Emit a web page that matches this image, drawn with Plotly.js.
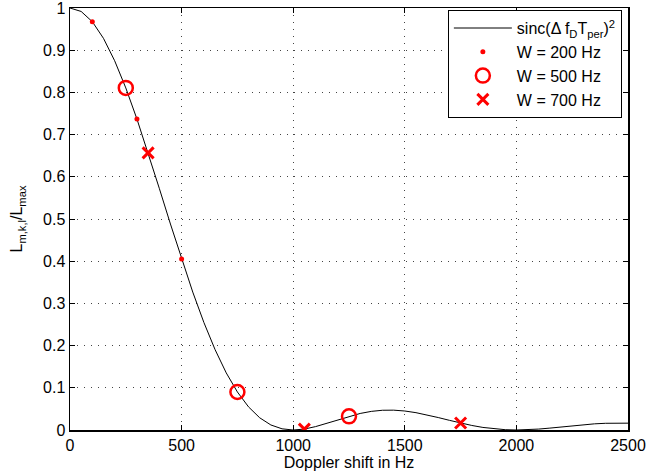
<!DOCTYPE html>
<html>
<head>
<meta charset="utf-8">
<script src="https://cdn.plot.ly/plotly-3.0.1.min.js"></script>
<style>
  html, body { margin: 0; padding: 0; background: #fff; }
  #chart { width: 667px; height: 476px; }
</style>
</head>
<body>
<div id="chart"></div>
<script>
// Curve: sinc(Δ f_D T_per)^2 values
const curveHz = [0,50,100,150,200,250,300,350,400,450,500,550,600,650,700,750,800,850,900,950,
  1000,1050,1100,1150,1200,1250,1300,1350,1400,1450,1500,1550,1600,1650,1700,1750,1800,1850,1900,1950,
  2000,2050,2100,2150,2200,2250,2300,2350,2400,2450,2500];
const curveVal = [1.0,0.9918,0.9675,0.9281,0.8751,0.8106,0.7368,0.6566,0.5728,0.4881,0.4053,0.3268,0.2546,0.1904,0.1353,0.0901,0.0547,0.0289,0.0119,0.0028,
  0.0,0.0022,0.0080,0.0158,0.0243,0.0324,0.0392,0.0441,0.0468,0.0470,0.0450,0.0411,0.0358,0.0295,0.0229,0.0165,0.0108,0.0061,0.0027,0.0007,
  0.0,0.0006,0.0022,0.0045,0.0072,0.0100,0.0125,0.0146,0.0159,0.0165,0.0162];

// Sample points for each W
const w200Hz = [100, 300, 500];
const w200Val = [0.9675, 0.7368, 0.4053];
const w500Hz = [250, 750, 1250];
const w500Val = [0.8106, 0.0901, 0.0324];
const w700Hz = [350, 1050, 1750];
const w700Val = [0.6566, 0.0022, 0.0165];

const xTicks = [0, 500, 1000, 1500, 2000, 2500];
const yTicks = [0, 0.1, 0.2, 0.3, 0.4, 0.5, 0.6, 0.7, 0.8, 0.9, 1];

const FONT = 'Liberation Sans, Arial, Helvetica, sans-serif';
const RED = '#ff0000';

const traces = [
  { x: curveHz, y: curveVal, type: 'scatter', mode: 'lines',
    name: 'sinc(Δ f<sub>D</sub>T<sub>per</sub>)<sup>2</sup>',
    line: { color: '#000', width: 1 } },
  { x: w200Hz, y: w200Val, type: 'scatter', mode: 'markers', name: 'W = 200 Hz',
    marker: { symbol: 'circle', size: 5, color: RED } },
  { x: w500Hz, y: w500Val, type: 'scatter', mode: 'markers', name: 'W = 500 Hz',
    marker: { symbol: 'circle-open', size: 14, color: RED, line: { color: RED, width: 2.5 } } },
  { x: w700Hz, y: w700Val, type: 'scatter', mode: 'markers', name: 'W = 700 Hz',
    marker: { symbol: 'x-thin', size: 11, color: RED, line: { color: RED, width: 3 } } }
];

const axisCommon = {
  showline: true, linecolor: '#000', linewidth: 1.5, mirror: 'ticks',
  ticks: 'inside', ticklen: 5, tickcolor: '#000', tickwidth: 1,
  showgrid: true, gridcolor: '#444', gridwidth: 1, griddash: '1px,6px',
  zeroline: false, ticklabeloverflow: 'allow',
  tickfont: { family: FONT, size: 16, color: '#000' }
};

const layout = {
  width: 667, height: 476,
  margin: { l: 70, r: 39, t: 8, b: 46 },
  paper_bgcolor: '#fff', plot_bgcolor: '#fff',
  font: { family: FONT, size: 16, color: '#000' },
  showlegend: true,
  xaxis: Object.assign({}, axisCommon, {
    range: [0, 2500], tickvals: xTicks, ticktext: xTicks.map(String),
    title: { text: 'Doppler shift in Hz', font: { family: FONT, size: 16 }, standoff: 4 }
  }),
  yaxis: Object.assign({}, axisCommon, {
    range: [0, 1], tickvals: yTicks, ticktext: yTicks.map(String),
    title: { text: 'L<sub>m,k,l</sub>/L<sub>max</sub>', font: { family: FONT, size: 16 }, standoff: 16 }
  }),
  legend: {
    x: 0.989, y: 0.995, xanchor: 'right', yanchor: 'top',
    bgcolor: '#fff', bordercolor: '#000', borderwidth: 1,
    font: { family: FONT, size: 16, color: '#000' },
    itemwidth: 58, tracegroupgap: 0
  }
};

Plotly.newPlot('chart', traces, layout, { displayModeBar: false, staticPlot: true });
</script>
</body>
</html>
